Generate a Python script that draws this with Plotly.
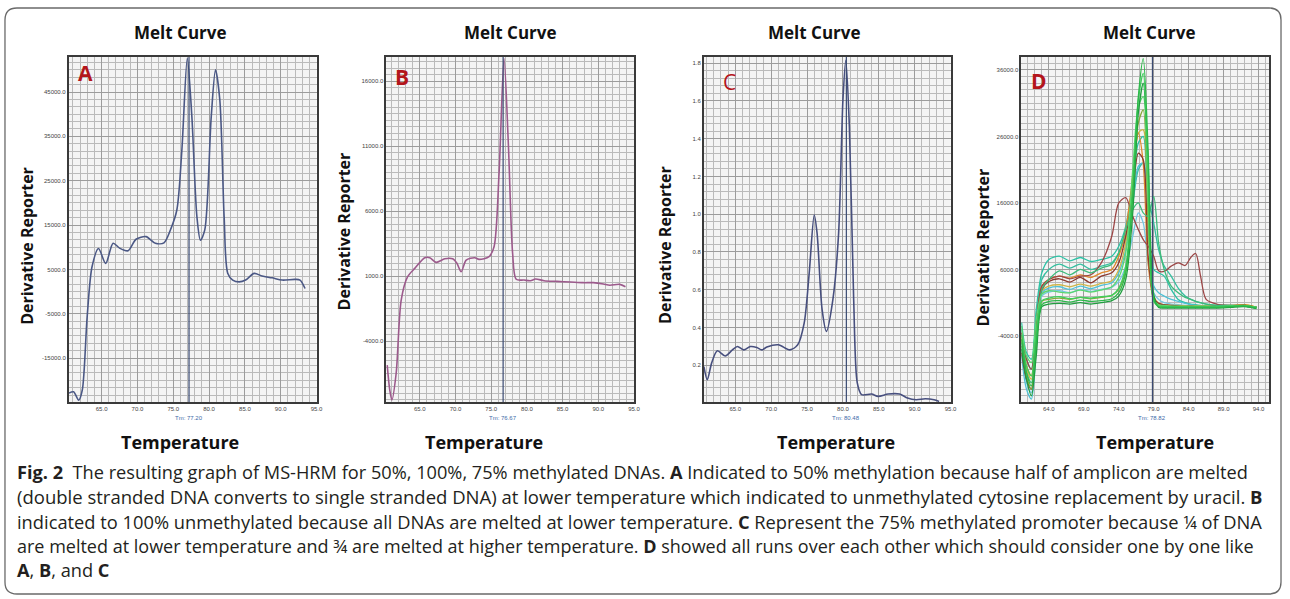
import plotly.graph_objects as go

W, H = 1290, 599

# ---------------- data ----------------
# Panel A (50% methylated)
temp_a = [60.45, 61.08, 61.8, 62.3, 62.98, 63.66, 64.57, 65.57, 66.6, 67.5, 68.7, 69.8, 71.2,
          72.5, 73.7, 74.6, 75.5, 76.2, 76.96, 77.6, 78.3, 78.8, 79.4, 80.3, 80.9, 81.5, 82.1,
          82.6, 83.3, 84.2, 85.1, 86.3, 87.4, 88.8, 90.2, 92.0, 92.7, 93.4]
deriv_a = [-22900, -22600, -24500, -22200, -5700, 5600, 9700, 6350, 10900, 9800, 9200, 11800, 12400,
           10900, 11000, 13900, 18400, 31900, 52600, 39400, 16900, 11600, 13900, 39400, 50000, 43200, 16900,
           4150, 2600, 2200, 2600, 4100, 3500, 3100, 2600, 2750, 2600, 700]

# Panel B (100% unmethylated)
temp_b = [60.44, 60.8, 61.1, 61.7, 62.4, 63.3, 64.3, 65.7, 66.4, 67.3, 68.5, 69.6, 70.2, 70.8,
          71.5, 72.7, 73.3, 74.7, 75.4, 76.1, 76.8, 77.4, 78.0, 78.5, 79.6, 80.5, 81.2, 82.4,
          84.2, 86.1, 87.9, 89.3, 90.7, 91.6, 93.0, 93.8]
deriv_b = [-5850, -7770, -8540, -6460, -850, 950, 1590, 2410, 2410, 2050, 2330, 2330, 1980, 1330,
           2230, 2410, 2280, 2490, 3250, 8900, 17740, 11200, 2750, 750, 690, 640, 770, 640,
           590, 540, 490, 490, 390, 290, 360, 180]

# Panel C (75% methylated)
temp_c = [60.63, 61.1, 61.7, 62.5, 63.6, 64.6, 65.3, 66.2, 67.1, 68.0, 68.7, 69.4, 71.0, 72.6,
          73.7, 74.6, 75.3, 76.0, 76.4, 77.1, 77.7, 78.6, 79.4, 80.0, 80.4, 80.9, 81.5, 82.0,
          82.6, 84.0, 84.9, 86.3, 87.9, 89.0, 90.2, 91.5, 92.7, 93.4]
deriv_c = [0.193, 0.123, 0.211, 0.276, 0.249, 0.281, 0.299, 0.281, 0.299, 0.294, 0.281, 0.296, 0.308, 0.281,
           0.308, 0.423, 0.687, 0.996, 0.899, 0.494, 0.379, 0.547, 0.899, 1.604, 1.815, 1.463, 0.547, 0.106,
           0.044, 0.047, 0.035, 0.047, 0.047, 0.026, 0.017, 0.022, 0.017, 0.008]

# Panel D (all runs overlaid)
temp_d = [60.1, 60.8, 61.5, 62.2, 63.0, 64.0, 65.5, 67.0, 68.5, 70.0, 71.5, 73.0, 74.0, 75.0, 76.0, 76.8,
          77.5, 78.2, 79.0, 79.7, 80.5, 81.5, 82.5, 83.5, 84.3, 85.0, 85.7, 86.5, 88.0, 90.0, 92.0, 93.7]
run_teal2 = [-2000, -6500, -7500, 0, 5500, 7500, 8000, 7300, 7800, 7200, 7500, 8000, 9500, 12500, 19000, 25000,
             26000, 12000, 6000, 5500, 5000, 3000, 1500, 1000, 800, 700, 600, 500, 500, 500, 500, 300]
run_teal = [-3000, -7500, -9000, -1000, 4500, 6000, 6800, 6200, 6800, 6000, 6500, 7000, 8500, 11000, 16000, 21000,
            22000, 17000, 13000, 9000, 6500, 5000, 3200, 2000, 1500, 1200, 1000, 800, 600, 600, 500, 300]
run_cyan = [-7000, -12000, -13500, -6000, 2500, 3200, 3400, 3000, 3500, 3100, 3600, 4000, 5500, 9000, 16000, 21500,
            22000, 12000, 3500, 2500, 2000, 1500, 1200, 900, 700, 600, 500, 500, 400, 500, 500, 300]
run_lblue = [-5500, -11000, -12500, -5000, 2000, 2600, 2800, 2500, 3000, 2700, 3000, 3300, 4200, 6500, 11000, 14500,
             13000, 7000, 2500, 1500, 1000, 800, 700, 600, 500, 500, 500, 500, 400, 500, 500, 300]
run_yellow = [-4500, -9000, -10500, -3500, 2800, 3500, 3700, 3400, 3800, 3500, 3900, 4300, 6000, 10000, 19000, 26500,
              27000, 12000, 2000, 900, 700, 600, 600, 500, 500, 500, 500, 500, 500, 600, 700, 300]
run_orange = [-4000, -8500, -10000, -3000, 3500, 4500, 5000, 4700, 5200, 4800, 5500, 6000, 8000, 12000, 20000, 26500,
              22000, 7000, 1500, 800, 600, 500, 500, 500, 500, 500, 500, 500, 400, 500, 700, 300]
run_brown = [-6500, -10500, -12000, -5000, 3000, 4200, 4600, 4100, 4800, 4000, 5000, 5500, 7000, 11000, 17500, 23500,
             22500, 8000, 1800, 900, 700, 600, 500, 400, 500, 400, 400, 400, 500, 400, 600, 300]
run_brown2 = [-3500, -7500, -9000, -2000, 3500, 4500, 5000, 4600, 5000, 5200, 7000, 11000, 16000, 16800, 14000, 12000,
              10500, 9500, 8000, 5800, 5700, 6500, 7000, 6600, 7800, 8400, 5000, 1500, 800, 600, 600, 300]
run_olive = [-5500, -10000, -12000, -5500, 1200, 1500, 1700, 1500, 1800, 1600, 1800, 2100, 3000, 6000, 17000, 28000,
             30000, 14000, 1500, 700, 500, 500, 400, 400, 400, 400, 400, 400, 400, 500, 600, 300]
run_gteal = [-5000, -9500, -11000, -4000, 3000, 4500, 5800, 5200, 6000, 5500, 6200, 6800, 8500, 12000, 15000, 16000,
             14500, 14000, 17000, 10000, 6000, 3500, 2500, 1800, 1500, 1200, 1000, 800, 600, 600, 500, 300]
run_green4 = [-2500, -7000, -8000, -1500, 2300, 2800, 2600, 2500, 2900, 2600, 2900, 3400, 4800, 8500, 21000, 30500,
              32000, 16000, 1500, 700, 600, 500, 500, 500, 500, 500, 500, 500, 400, 500, 500, 300]
run_green3 = [-6000, -10500, -13000, -7000, 400, 800, 900, 800, 1000, 800, 1000, 1300, 2000, 4500, 14500, 29500,
              34000, 22000, 2200, 300, 200, 200, 200, 200, 200, 200, 200, 200, 200, 300, 400, 100]
run_green2 = [-3800, -8500, -10000, -3500, 1300, 1700, 1900, 1600, 1800, 1700, 1900, 2100, 3200, 6500, 18500, 31500,
              35500, 20000, 1200, 500, 400, 400, 400, 400, 400, 400, 400, 400, 400, 500, 600, 300]
run_green1 = [-4500, -9500, -11500, -5000, 700, 1200, 1300, 1100, 1400, 1200, 1300, 1600, 2500, 5500, 17000, 32000,
              37700, 24000, 1500, 400, 300, 300, 300, 300, 300, 300, 300, 300, 300, 400, 500, 200]

runs_d = [
    (run_teal2, "#2cc3a6"), (run_teal, "#36bfa0"), (run_cyan, "#4fc1d6"), (run_lblue, "#74c8e2"),
    (run_yellow, "#cfb54a"), (run_orange, "#e0892c"), (run_brown, "#8b3a2f"), (run_brown2, "#9c4646"),
    (run_olive, "#86a83a"), (run_gteal, "#3dbb7a"), (run_green4, "#5ad66e"), (run_green3, "#1f9d3f"),
    (run_green2, "#3ecf5c"), (run_green1, "#2db84a"),
]

# axis ticks
xt_abc = [65.0, 70.0, 75.0, 80.0, 85.0, 90.0, 95.0]
xt_d = [64.0, 69.0, 74.0, 79.0, 84.0, 89.0, 94.0]
yt_a = [-15000, -5000, 5000, 15000, 25000, 35000, 45000]
yt_b = [-4000, 1000, 6000, 11000, 16000]
yt_c = [0.2, 0.4, 0.6, 0.8, 1.0, 1.2, 1.4, 1.6, 1.8]
yt_d = [-4000, 6000, 16000, 26000, 36000]

tm_vals = [77.20, 76.67, 80.48, 78.82]
tm_labels = ["Tm: 77.20", "Tm: 76.67", "Tm: 80.48", "Tm: 78.82"]
letters = ["A", "B", "C", "D"]

# ---------------- layout helpers ----------------
def px(x):
    return x / W

def py(y):
    return 1 - y / H

panel_px = [(69, 318), (388, 637), (707, 955), (1026, 1275)]
ydom = [py(402), py(57)]
xranges = [[60.4, 95.0], [60.3, 95.0], [60.6, 95.0], [60.05, 95.5]]
yranges = [[-24900, 52900], [-8690, 17850], [0.005, 1.833], [-13930, 37950]]
yticks = [yt_a, yt_b, yt_c, yt_d]
xticks = [xt_abc, xt_abc, xt_abc, xt_d]
yminor = [10000 / 6, 500, 0.04, 1000]
yminor0 = [-15000, -4000, 0.2, -4000]

fig = go.Figure()

line_a = "#4b5885"
line_b = "#9c5a8c"
line_c = "#474f7e"

fig.add_trace(go.Scatter(x=temp_a, y=deriv_a, mode="lines", line=dict(color=line_a, width=1.6, shape="spline", smoothing=0.8),
                         xaxis="x", yaxis="y", showlegend=False))
fig.add_trace(go.Scatter(x=temp_b, y=deriv_b, mode="lines", line=dict(color=line_b, width=1.6, shape="spline", smoothing=0.8),
                         xaxis="x2", yaxis="y2", showlegend=False))
fig.add_trace(go.Scatter(x=temp_c, y=deriv_c, mode="lines", line=dict(color=line_c, width=1.6, shape="spline", smoothing=0.8),
                         xaxis="x3", yaxis="y3", showlegend=False))
for vals, col in runs_d:
    fig.add_trace(go.Scatter(x=temp_d, y=vals, mode="lines",
                             line=dict(color=col, width=1.3, shape="spline", smoothing=0.8),
                             xaxis="x4", yaxis="y4", showlegend=False))

tick_font = dict(family="Liberation Sans, Arial", size=6, color="#444444")
layout = dict(
    width=W, height=H, margin=dict(l=0, r=0, t=0, b=0),
    paper_bgcolor="white", plot_bgcolor="#f4f4f4", showlegend=False,
)
for i in range(4):
    sfx = "" if i == 0 else str(i + 1)
    x0, x1 = panel_px[i]
    layout["xaxis" + sfx] = dict(
        domain=[px(x0), px(x1)], range=xranges[i], anchor="y" + sfx,
        tickmode="array", tickvals=xticks[i], ticktext=["%.1f" % v for v in xticks[i]],
        tickfont=tick_font, ticks="", showgrid=True, gridcolor="#9c9c9c", gridwidth=1,
        minor=dict(tickmode="linear", tick0=60, dtick=1, showgrid=True, gridcolor="#bababa", gridwidth=1, ticks=""),
        showline=True, linecolor="#3a3a3a", linewidth=1.5, mirror=True, zeroline=False, fixedrange=True,
    )
    layout["yaxis" + sfx] = dict(
        domain=ydom, range=yranges[i], anchor="x" + sfx,
        tickmode="array", tickvals=yticks[i], ticktext=["%.1f" % v for v in yticks[i]],
        tickfont=tick_font, ticks="", showgrid=True, gridcolor="#9c9c9c", gridwidth=1,
        minor=dict(tickmode="linear", tick0=yminor0[i], dtick=yminor[i], showgrid=True, gridcolor="#bababa", gridwidth=1, ticks=""),
        showline=True, linecolor="#3a3a3a", linewidth=1.5, mirror=True, zeroline=False, fixedrange=True,
    )
fig.update_layout(**layout)

shapes = []
annotations = []
title_x = [181, 513, 818, 1155]
ytitle_x = [27, 346, 668, 988]
ytitle_y = [246, 231, 245, 247]
xtitle_x = [181, 486, 840, 1160]
letter_pos = [(86, 73), (404, 77), (733, 82), (1044, 81)]
letter_bold = [True, True, False, True]
bold_font = "Open Sans, Liberation Sans, Arial"

for i in range(4):
    sfx = "" if i == 0 else str(i + 1)
    shapes.append(dict(type="line", xref="x" + sfx, yref="y%s domain" % sfx, x0=tm_vals[i], x1=tm_vals[i],
                       y0=0, y1=1, line=dict(color="#3a4a72", width=1.2)))
    annotations.append(dict(text=tm_labels[i], x=tm_vals[i], xref="x" + sfx, y=py(418), yref="paper",
                            showarrow=False, font=dict(family="Liberation Sans, Arial", size=6, color="#3d6aa8"),
                            xanchor="center", yanchor="middle"))
    annotations.append(dict(text="<b>Melt Curve</b>", x=px(title_x[i]), y=py(32), xref="paper", yref="paper",
                            showarrow=False, font=dict(family=bold_font, size=17, color="#111111"),
                            xanchor="center", yanchor="middle"))
    annotations.append(dict(text="<b>Derivative Reporter</b>", x=px(ytitle_x[i]), y=py(ytitle_y[i]), xref="paper",
                            yref="paper", textangle=-90, showarrow=False,
                            font=dict(family=bold_font, size=16, color="#111111"), xanchor="center", yanchor="middle"))
    annotations.append(dict(text="<b>Temperature</b>", x=px(xtitle_x[i]), y=py(442), xref="paper", yref="paper",
                            showarrow=False, font=dict(family=bold_font, size=18, color="#111111"),
                            xanchor="center", yanchor="middle"))
    lx, ly = letter_pos[i]
    ltxt = "<b>%s</b>" % letters[i] if letter_bold[i] else letters[i]
    annotations.append(dict(text=ltxt, x=px(lx), y=py(ly), xref="paper", yref="paper",
                            showarrow=False, font=dict(family=bold_font, size=21, color="#b3151b"),
                            xanchor="center", yanchor="middle"))

caption_lines = [
    "<b>Fig. 2</b>  The resulting graph of MS-HRM for 50%, 100%, 75% methylated DNAs. <b>A</b> Indicated to 50% methylation because half of amplicon are melted",
    "(double stranded DNA converts to single stranded DNA) at lower temperature which indicated to unmethylated cytosine replacement by uracil. <b>B</b>",
    "indicated to 100% unmethylated because all DNAs are melted at lower temperature. <b>C</b> Represent the 75% methylated promoter because ¼ of DNA",
    "are melted at lower temperature and ¾ are melted at higher temperature. <b>D</b> showed all runs over each other which should consider one by one like",
    "<b>A</b>, <b>B</b>, and <b>C</b>",
]
cap_y = [472, 496.5, 521, 545.5, 570]
cap_size = [18.2, 18.5, 18.3, 18.0, 18.2]
for t, yy, fs in zip(caption_lines, cap_y, cap_size):
    annotations.append(dict(text=t, x=px(15), y=py(yy), xref="paper", yref="paper", showarrow=False,
                            xanchor="left", yanchor="middle",
                            font=dict(family="Open Sans, Liberation Sans, Arial", size=fs, color="#231f20")))

# rounded frame
fx0, fx1, fy0, fy1, r = 5, 1287, 8, 594, 12
path = ("M {a},{b} L {c},{b} Q {d},{b} {d},{e} L {d},{f} Q {d},{g} {c},{g} L {a},{g} Q {h},{g} {h},{f} "
        "L {h},{e} Q {h},{b} {a},{b} Z").format(
    a=px(fx0 + r), b=py(fy0), c=px(fx1 - r), d=px(fx1), e=py(fy0 + r), f=py(fy1 - r), g=py(fy1), h=px(fx0))
shapes.append(dict(type="path", xref="paper", yref="paper", path=path, line=dict(color="#6a6a6a", width=1.3),
                   fillcolor="rgba(0,0,0,0)", layer="below"))

fig.update_layout(shapes=shapes, annotations=annotations)
fig.write_html("out.html", config={"displayModeBar": False},
               post_script="document.body.style.margin='0';document.body.style.overflow='hidden';")
